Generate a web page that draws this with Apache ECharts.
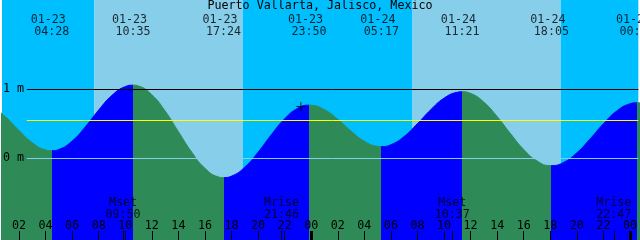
<!DOCTYPE html>
<html><head><meta charset="utf-8">
<script src="https://cdn.jsdelivr.net/npm/echarts@6/dist/echarts.min.js"></script>
<style>html,body{margin:0;padding:0;background:#fff}#c{width:640px;height:240px}</style>
</head><body><div id="c"></div>
<script>
// ---- data (hours since 01-23 00:00 local) ----
const titleText = 'Puerto Vallarta, Jalisco, Mexico';
const tideTimes = [-1, 0, 1, 2, 3, 4, 4.467, 5, 6, 7, 8, 9, 10, 10.583, 11, 12, 13, 14, 15, 16, 17, 17.4, 18, 19, 20, 21, 22, 23, 23.833, 24, 25, 26, 27, 28, 29, 29.283, 30, 31, 32, 33, 34, 35, 35.35, 36, 37, 38, 39, 40, 41, 42, 42.083, 43, 44, 45, 46, 47, 48, 48.533, 49];
const tideLevels = [0.80, 0.745, 0.597, 0.402, 0.226, 0.122, 0.11, 0.128, 0.250, 0.458, 0.700, 0.912, 1.039, 1.06, 1.048, 0.922, 0.686, 0.387, 0.090, -0.145, -0.269, -0.28, -0.258, -0.128, 0.089, 0.343, 0.573, 0.727, 0.77, 0.769, 0.705, 0.565, 0.394, 0.248, 0.174, 0.17, 0.197, 0.317, 0.503, 0.705, 0.872, 0.958, 0.965, 0.941, 0.814, 0.605, 0.359, 0.128, -0.038, -0.105, -0.105, -0.060, 0.080, 0.282, 0.501, 0.685, 0.790, 0.805, 0.80];
const extremeTimes = [4.467, 10.583, 17.4, 23.833, 29.283, 35.35, 42.083, 48.533];
const extremeIsHigh = [false, true, false, true, false, true, false, true];
const extremeDates = ['01-23', '01-23', '01-23', '01-23', '01-24', '01-24', '01-24', '01-25'];
const extremeClock = ['04:28', '10:35', '17:24', '23:50', '05:17', '11:21', '18:05', '00:32'];
const moonTimes = [9.833, 21.767, 34.617, 46.783];
const moonNames = ['Mset', 'Mrise', 'Mset', 'Mrise'];
const moonClock = ['09:50', '21:46', '10:37', '22:47'];
const sunTimes = [7.68, 18.84, 31.63, 42.79]; // rise, set, rise, set
const hourTicks = [2, 4, 6, 8, 10, 12, 14, 16, 18, 20, 22, 24, 26, 28, 30, 32, 34, 36, 38, 40, 42, 44, 46, 48];
const midnightTicks = [24, 48];
const levelTicks = [0, 1];
const meanLevel = 0.55;
const nowTime = 23.22, nowLevel = 0.751;

// ---- styles ----
const X_MIN = 0.72, X_MAX = 48.63, Y_MIN = -1.184, Y_MAX = 2.294;
const NIGHT = '#00BFFF', DAY = '#87CEEB', FLOOD = '#0000FF', EBB = '#2E8B57';
const FONT = { fontFamily: 'DejaVu Sans Mono', fontSize: 11.7, color: '#000' };
const LINE_START = X_MIN + 25 / (640 / (X_MAX - X_MIN));

const pieces = [];
let prev = null;
extremeTimes.forEach((t, i) => {
  const p = { color: extremeIsHigh[i] ? FLOOD : EBB, lt: t };
  if (prev !== null) p.gte = prev;
  pieces.push(p);
  prev = t;
});
pieces.push({ gte: prev, color: extremeIsHigh[extremeIsHigh.length - 1] ? EBB : FLOOD });

const sky = [];
const bounds = [X_MIN].concat(sunTimes, [X_MAX]);
for (let i = 0; i < bounds.length - 1; i++) {
  sky.push([{ xAxis: bounds[i], itemStyle: { color: i % 2 === 0 ? NIGHT : DAY, opacity: 1 } }, { xAxis: bounds[i + 1] }]);
}

function hline(y, color) {
  return [{ coord: [LINE_START, y], lineStyle: { color: color, width: 1, type: 'solid' } }, { coord: [X_MAX, y] }];
}

const baseX = { type: 'value', min: X_MIN, max: X_MAX, position: 'bottom', z: 10, axisLine: { show: false, onZero: false }, splitLine: { show: false } };

const chart = echarts.init(document.getElementById('c'), null, { renderer: 'canvas' });
chart.setOption({
  animation: false,
  backgroundColor: '#fff',
  title: { text: titleText, left: 'center', top: 0, padding: 0, textStyle: Object.assign({ fontWeight: 'normal' }, FONT) },
  grid: { left: 0, right: 0, top: 0, bottom: 0, containLabel: false },
  xAxis: [
    Object.assign({}, baseX, {
      axisTick: { show: true, inside: true, length: 9, customValues: hourTicks, lineStyle: { color: '#000', width: 1 } },
      axisLabel: Object.assign({ show: true, inside: true, margin: 8, customValues: hourTicks,
        formatter: v => String(Math.round(v) % 24).padStart(2, '0') }, FONT)
    }),
    Object.assign({}, baseX, {
      axisTick: { show: true, inside: true, length: 9, customValues: moonTimes, lineStyle: { color: '#000', width: 1 } },
      axisLabel: { show: false }
    }),
    Object.assign({}, baseX, {
      axisTick: { show: true, inside: true, length: 9, customValues: midnightTicks, lineStyle: { color: '#000', width: 3 } },
      axisLabel: { show: false }
    })
  ],
  yAxis: {
    type: 'value', min: Y_MIN, max: Y_MAX, z: 10,
    axisLine: { show: false, onZero: false }, axisTick: { show: false }, splitLine: { show: false },
    axisLabel: Object.assign({ inside: true, margin: 1, customValues: levelTicks, formatter: '{value} m' }, FONT)
  },
  visualMap: { type: 'piecewise', show: false, dimension: 0, seriesIndex: 1, pieces: pieces },
  series: [
    {
      type: 'line', data: [], z: 1, silent: true,
      markArea: { silent: true, data: sky },
      markLine: { silent: true, symbol: ['none', 'none'], label: { show: false }, data: [hline(1, '#000')] }
    },
    {
      type: 'line', z: 2, silent: true, smooth: true, showSymbol: false,
      data: tideTimes.map((t, i) => [t, tideLevels[i]]),
      lineStyle: { width: 1 },
      areaStyle: { origin: 'start', opacity: 1 }
    },
    {
      type: 'line', data: [], z: 3, silent: true,
      markLine: { silent: true, symbol: ['none', 'none'], label: { show: false },
        data: [hline(meanLevel, '#FFFF00'), hline(0, DAY)] }
    },
    {
      type: 'scatter', z: 4, silent: true, symbolSize: 1, itemStyle: { color: 'rgba(0,0,0,0)' },
      data: extremeTimes.map(t => [t, 1.925]),
      label: Object.assign({ show: true, position: 'inside', lineHeight: 12, align: 'center',
        formatter: p => extremeDates[p.dataIndex] + ' \n' + extremeClock[p.dataIndex] }, FONT)
    },
    {
      type: 'scatter', z: 4, silent: true, symbolSize: 1, itemStyle: { color: 'rgba(0,0,0,0)' },
      data: moonTimes.map(t => [t, -0.727]),
      label: Object.assign({ show: true, position: 'inside', lineHeight: 12, align: 'center',
        formatter: p => moonNames[p.dataIndex] + '\n' + moonClock[p.dataIndex] }, FONT)
    },
    {
      type: 'scatter', z: 5, silent: true,
      symbol: 'path://M4,0H5V4H9V5H5V9H4V5H0V4H4Z', symbolSize: [9, 9],
      itemStyle: { color: '#000' },
      data: [[nowTime, nowLevel]]
    }
  ]
});
</script></body></html>
